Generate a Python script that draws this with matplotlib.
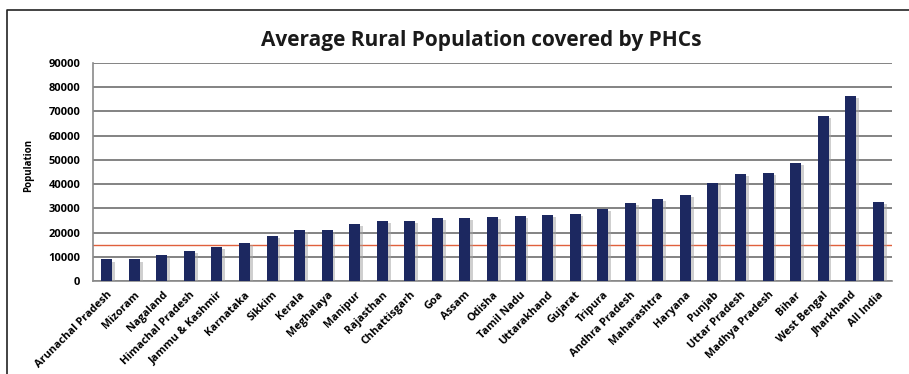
import numpy as np
import matplotlib
matplotlib.use("Agg")
import matplotlib.pyplot as plt
import matplotlib.patheffects as pe
from matplotlib.lines import Line2D

# ------------------------------------------------------------
# Data: average rural population covered per PHC, by state
# ------------------------------------------------------------
states = [
    "Arunachal Pradesh", "Mizoram", "Nagaland", "Himachal Pradesh",
    "Jammu & Kashmir", "Karnataka", "Sikkim", "Kerala", "Meghalaya",
    "Manipur", "Rajasthan", "Chhattisgarh", "Goa", "Assam", "Odisha",
    "Tamil Nadu", "Uttarakhand", "Gujarat", "Tripura", "Andhra Pradesh",
    "Maharashtra", "Haryana", "Punjab", "Uttar Pradesh", "Madhya Pradesh",
    "Bihar", "West Bengal", "Jharkhand", "All India",
]
population = [
    8900, 8900, 10600, 12300, 13900, 15700, 18600, 20900, 21200,
    23500, 24600, 24600, 26000, 26000, 26600, 27000, 27400, 27800,
    29600, 32200, 33700, 35600, 40600, 44200, 44700, 48900, 68200,
    76400, 32700,
]
norm_level = 15000          # reference line
y_ticks = list(range(0, 90001, 10000))

# ------------------------------------------------------------
# Figure
# ------------------------------------------------------------
plt.rcParams["font.family"] = ["Open Sans", "DejaVu Sans"]

fig = plt.figure(figsize=(9.09, 3.74), dpi=100)
ax = fig.add_axes([0.1023, 0.2487, 0.8790, 0.5829])

x = np.arange(len(states))
bars = ax.bar(x, population, width=0.4, color="#1c2860", zorder=3)
for b in bars:
    b.set_path_effects([
        pe.SimplePatchShadow(offset=(2, -1.5), shadow_rgbFace="#a0a0a0", alpha=0.5),
        pe.Normal(),
    ])

ax.axhline(norm_level, color="#e0603c", linewidth=1.0, zorder=2)

ax.set_ylim(0, 90000)
ax.set_xlim(-0.5, len(states) - 0.5)
ax.set_yticks(y_ticks)
ax.set_yticklabels([str(v) for v in y_ticks], fontsize=8, fontweight="bold")
ax.yaxis.grid(True, color="#6e6e6e", linewidth=1.2, zorder=1)
ax.set_axisbelow(True)
ax.tick_params(axis="y", length=0, pad=9)

ax.set_xticks(x)
ax.set_xticklabels(states, rotation=45, ha="right", rotation_mode="anchor",
                   fontsize=7.8, fontweight="bold")
ax.tick_params(axis="x", length=0, pad=6)

ax.set_ylabel("Population", fontsize=7, fontweight="bold")
ax.yaxis.set_label_coords(-0.074, 0.53)

for side in ("top", "right"):
    ax.spines[side].set_visible(False)
for side in ("left", "bottom"):
    ax.spines[side].set_color("#8a8a8a")
    ax.spines[side].set_linewidth(1.2)

fig.text(0.529, 0.893, "Average Rural Population covered by PHCs",
         ha="center", va="center", fontsize=15, fontweight="bold", color="#1a1a1a")

# outer frame line (left and top)
fig.add_artist(Line2D([0.0077, 0.0077, 1.0], [0.0, 0.973, 0.973],
                      transform=fig.transFigure, color="#222222", linewidth=1.2))

fig.savefig("out.png", dpi=100)
